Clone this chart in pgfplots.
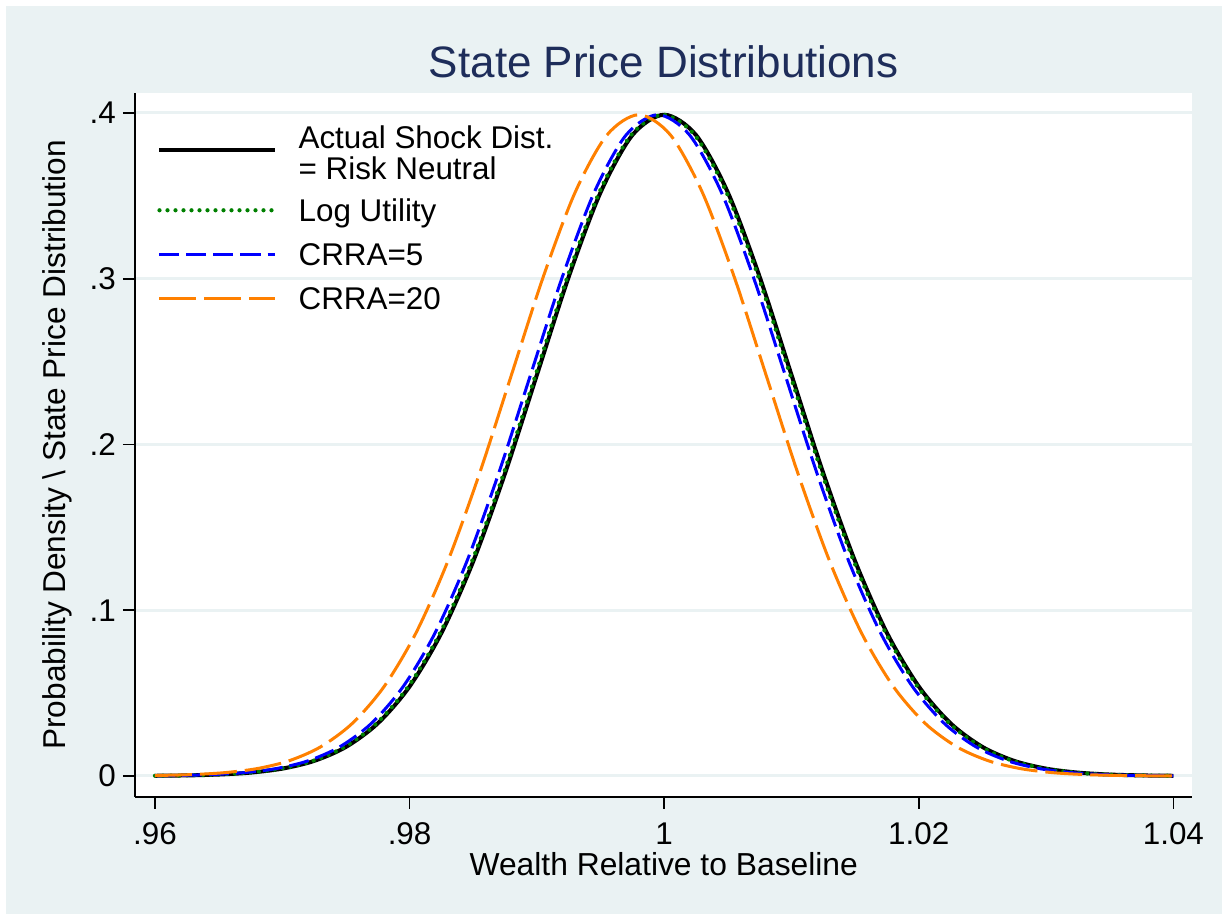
\documentclass[border=0pt]{standalone}
\usepackage{fontspec}
\setmainfont{Liberation Sans}
\usepackage{pgfplots}
\pgfplotsset{compat=1.18}
\definecolor{statabg}{RGB}{234,242,243}
\definecolor{titlenavy}{RGB}{30,45,90}
\definecolor{sorange}{RGB}{255,128,0}
\definecolor{sgreen}{RGB}{0,128,0}
\begin{document}
\begin{tikzpicture}
\path[use as bounding box] (0,0) rectangle (611pt,457pt);
\fill[white] (0,0) rectangle (611pt,457pt);
\fill[statabg] (3pt,0) rectangle (611pt,454pt);
\begin{axis}[
  at={(67.5pt,58.5pt)}, anchor=south west,
  scale only axis, width=528.75pt, height=352pt,
  xmin=0.95843, xmax=1.04150, ymin=-0.01267, ymax=0.41207,
  axis background/.style={fill=white},
  axis x line*=bottom, axis y line*=left,
  axis line style={-, line width=0.8pt, black},
  tick align=outside, major tick length=6pt,
  tick style={line width=0.8pt, black},
  xtick={0.96,0.98,1,1.02,1.04},
  xticklabels={.96,.98,1,1.02,1.04},
  ytick={0,0.1,0.2,0.3,0.4},
  yticklabels={0,.1,.2,.3,.4},
  ymajorgrids, major grid style={statabg, line width=1.5pt},
  ticklabel style={font=\fontsize{15.7}{18}\selectfont},
  xticklabel style={yshift=-3.5pt},
  /pgf/number format/assume math mode=true,
  title={State Price Distributions},
  title style={at={(0.5,1.0227)}, anchor=base, yshift=-6pt, font=\fontsize{22}{26}\selectfont, text=titlenavy},
  xlabel={Wealth Relative to Baseline},
  xlabel style={at={(0.5,-0.1122)}, anchor=base, font=\fontsize{15.9}{18}\selectfont},
  ylabel={Probability Density \textbackslash{} State Price Distribution},
  ylabel style={at={(-0.0662,0.5)}, anchor=base, rotate=0, font=\fontsize{15.8}{18}\selectfont},
  legend cell align=left,
  legend style={draw=none, fill=none, at={(0,1)}, anchor=north west,
    xshift=11pt, yshift=-15.25pt,
    inner sep=0pt, row sep=11pt, column sep=11pt,
    nodes={inner sep=0pt, text depth=0pt},
    font=\fontsize{15.7}{15}\selectfont},
  legend image code/.code={\draw[#1] (0pt,0pt) -- (57.5pt,0pt);},
]
\addplot[black, line width=2pt, smooth] coordinates {
(0.96,0.000134) (0.9625,0.000353) (0.965,0.000873) (0.9675,0.002029) (0.97,0.004432)
(0.9725,0.009094) (0.975,0.017528) (0.9775,0.031740) (0.98,0.053991) (0.9825,0.086277)
(0.985,0.129518) (0.9875,0.182649) (0.99,0.241971) (0.9925,0.301137) (0.995,0.352065)
(0.9975,0.386668) (1.0,0.398942) (1.0025,0.386668) (1.005,0.352065) (1.0075,0.301137)
(1.01,0.241971) (1.0125,0.182649) (1.015,0.129518) (1.0175,0.086277) (1.02,0.053991)
(1.0225,0.031740) (1.025,0.017528) (1.0275,0.009094) (1.03,0.004432) (1.0325,0.002029)
(1.035,0.000873) (1.0375,0.000353) (1.04,0.000134)
};
\addlegendentry{\raisebox{6.25pt}[26.5pt][0pt]{\begin{tabular}{@{}l@{}}Actual Shock Dist.\\= Risk Neutral\end{tabular}}}
\addplot[sgreen, line width=2.1pt, line cap=round, dash pattern=on 0pt off 4pt, smooth] coordinates {
(0.96,0.000137) (0.9624,0.000353) (0.9649,0.000873) (0.9674,0.002029) (0.9699,0.004432)
(0.9724,0.009094) (0.9749,0.017528) (0.9774,0.031740) (0.9799,0.053991) (0.9824,0.086277)
(0.9849,0.129518) (0.9874,0.182649) (0.9899,0.241971) (0.9924,0.301137) (0.9949,0.352065)
(0.9974,0.386668) (0.9999,0.398942) (1.0024,0.386668) (1.0049,0.352065) (1.0074,0.301137)
(1.0099,0.241971) (1.0124,0.182649) (1.0149,0.129518) (1.0174,0.086277) (1.0199,0.053991)
(1.0224,0.031740) (1.0249,0.017528) (1.0274,0.009094) (1.0299,0.004432) (1.0324,0.002029)
(1.0349,0.000873) (1.0374,0.000353) (1.04,0.000129)
};
\addlegendentry{Log Utility}
\addplot[blue, line width=1.5pt, dash pattern=on 10pt off 3.5pt, smooth] coordinates {
(0.96,0.000163) (0.962,0.000353) (0.9645,0.000873) (0.967,0.002029) (0.9695,0.004432)
(0.972,0.009094) (0.9745,0.017528) (0.977,0.031740) (0.9795,0.053991) (0.982,0.086277)
(0.9845,0.129518) (0.987,0.182649) (0.9895,0.241971) (0.992,0.301137) (0.9945,0.352065)
(0.997,0.386668) (0.9995,0.398942) (1.002,0.386668) (1.0045,0.352065) (1.007,0.301137)
(1.0095,0.241971) (1.012,0.182649) (1.0145,0.129518) (1.017,0.086277) (1.0195,0.053991)
(1.022,0.031740) (1.0245,0.017528) (1.027,0.009094) (1.0295,0.004432) (1.032,0.002029)
(1.0345,0.000873) (1.037,0.000353) (1.0395,0.000134) (1.04,0.000109)
};
\addlegendentry{CRRA=5}
\addplot[sorange, line width=1.5pt, dash pattern=on 18.5pt off 4pt, smooth] coordinates {
(0.96,0.000292) (0.9605,0.000353) (0.963,0.000873) (0.9655,0.002029) (0.968,0.004432)
(0.9705,0.009094) (0.973,0.017528) (0.9755,0.031740) (0.978,0.053991) (0.9805,0.086277)
(0.983,0.129518) (0.9855,0.182649) (0.988,0.241971) (0.9905,0.301137) (0.993,0.352065)
(0.9955,0.386668) (0.998,0.398942) (1.0005,0.386668) (1.003,0.352065) (1.0055,0.301137)
(1.008,0.241971) (1.0105,0.182649) (1.013,0.129518) (1.0155,0.086277) (1.018,0.053991)
(1.0205,0.031740) (1.023,0.017528) (1.0255,0.009094) (1.028,0.004432) (1.0305,0.002029)
(1.033,0.000873) (1.0355,0.000353) (1.038,0.000134) (1.04,0.000059)
};
\addlegendentry{CRRA=20}
\end{axis}
\end{tikzpicture}
\end{document}
